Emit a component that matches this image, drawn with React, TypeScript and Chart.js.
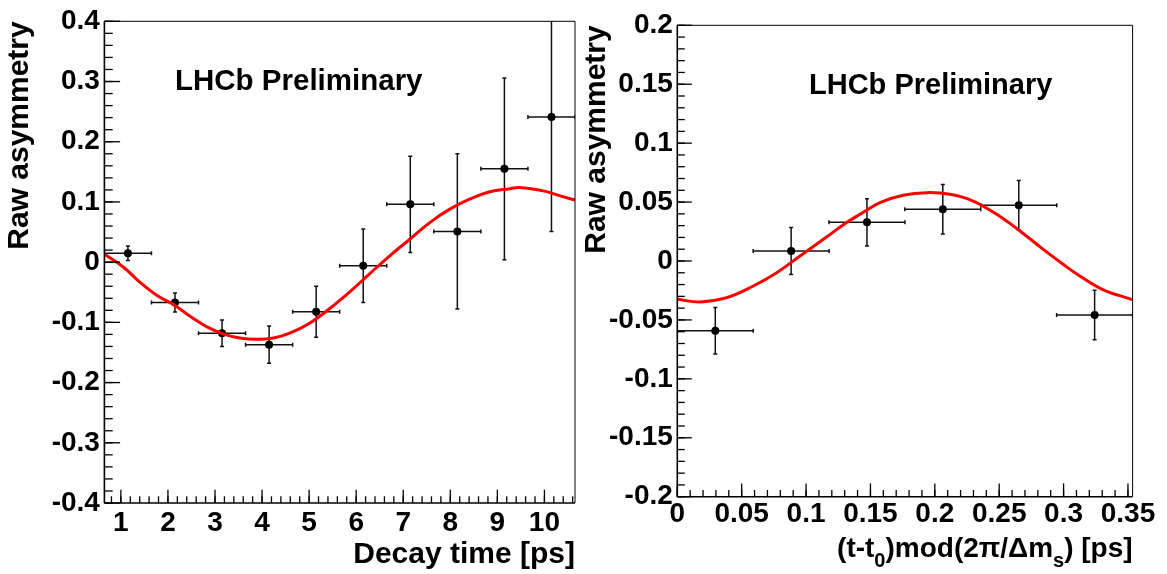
import React, { useEffect, useRef } from "react";
import { Chart, registerables } from "chart.js";

Chart.register(...registerables);

const FONT = "'Liberation Sans', Arial, Helvetica, sans-serif";

// ---------- Left panel: raw asymmetry vs decay time ----------
const leftTime = [1.15, 2.15, 3.15, 4.15, 5.15, 6.15, 7.15, 8.15, 9.15, 10.15];
const leftTimeErr = [0.5, 0.5, 0.5, 0.5, 0.5, 0.5, 0.5, 0.5, 0.5, 0.5];
const leftAsym = [0.0147, -0.067, -0.118, -0.137, -0.0824, -0.006, 0.096, 0.051, 0.155, 0.241];
const leftAsymErr = [0.012, 0.0157, 0.022, 0.031, 0.0425, 0.061, 0.08, 0.129, 0.151, 0.19];
const leftFitTime = [0.65, 1.05, 1.4, 1.76, 2.15, 2.47, 2.82, 3.17, 3.53, 3.88, 4.24, 4.59, 5.02, 5.44, 5.87, 6.29, 6.72, 7.14, 7.57, 7.99, 8.42, 8.84, 9.27, 9.47, 10.0, 10.3, 10.65];
const leftFitAsym = [0.013, -0.008, -0.033, -0.055, -0.072, -0.09, -0.107, -0.119, -0.126, -0.128, -0.126, -0.118, -0.101, -0.077, -0.049, -0.019, 0.011, 0.038, 0.066, 0.088, 0.105, 0.117, 0.122, 0.124, 0.118, 0.111, 0.103];
const leftXTicks = [1, 2, 3, 4, 5, 6, 7, 8, 9, 10];
const leftXTickLabels = ["1", "2", "3", "4", "5", "6", "7", "8", "9", "10"];
const leftYTicks = [-0.4, -0.3, -0.2, -0.1, 0, 0.1, 0.2, 0.3, 0.4];
const leftYTickLabels = ["-0.4", "-0.3", "-0.2", "-0.1", "0", "0.1", "0.2", "0.3", "0.4"];

// ---------- Right panel: raw asymmetry vs folded time ----------
const rightPhase = [0.0295, 0.0884, 0.1473, 0.2062, 0.2652, 0.3241];
const rightPhaseErr = [0.0295, 0.0295, 0.0295, 0.0295, 0.0295, 0.0295];
const rightAsym = [-0.0592, 0.0085, 0.0328, 0.0439, 0.0473, -0.0458];
const rightAsymErr = [0.0197, 0.02, 0.02, 0.021, 0.021, 0.021];
const rightFitPhase = [0, 0.0176, 0.0383, 0.059, 0.0772, 0.0953, 0.1134, 0.1315, 0.1419, 0.1574, 0.1755, 0.1936, 0.2117, 0.2298, 0.248, 0.2661, 0.2842, 0.2997, 0.3088, 0.33, 0.3536];
const rightFitAsym = [-0.0325, -0.0348, -0.0311, -0.0212, -0.0099, 0.0042, 0.0184, 0.0326, 0.0396, 0.0496, 0.0558, 0.058, 0.0566, 0.0509, 0.0396, 0.0255, 0.0099, -0.0028, -0.0099, -0.024, -0.0328];
const rightXTicks = [0, 0.05, 0.1, 0.15, 0.2, 0.25, 0.3, 0.35];
const rightXTickLabels = ["0", "0.05", "0.1", "0.15", "0.2", "0.25", "0.3", "0.35"];
const rightYTicks = [-0.2, -0.15, -0.1, -0.05, 0, 0.05, 0.1, 0.15, 0.2];
const rightYTickLabels = ["-0.2", "-0.15", "-0.1", "-0.05", "0", "0.05", "0.1", "0.15", "0.2"];

const yTitleText = "Raw asymmetry";
const stampText = "LHCb Preliminary";
const leftXTitle = [{ t: "Decay time [ps]" }];
const rightXTitle = [
  { t: "(t-t" },
  { t: "0", sub: true },
  { t: ")mod(2π/Δm" },
  { t: "s", sub: true },
  { t: ") [ps]" },
];

type Piece = { t: string; sub?: boolean };
type Panel = {
  xs: number[]; xerr: number[]; ys: number[]; yerr: number[];
  fitX: number[]; fitY: number[];
  xMin: number; xMax: number; yMin: number; yMax: number;
  xTicks: number[]; xTickLabels: string[]; yTicks: number[]; yTickLabels: string[];
  xMinorStep: number; yMinorStep: number;
  yAxisWidth: number; xAxisHeight: number; padTop: number; padRight: number;
  xTickPad: number; yTitlePad: number;
  xMajorLen: number; xMinorLen: number; yMajorLen: number; yMinorLen: number;
  stampX: number; stampY: number; stampSize: number;
  xTitle: Piece[]; xTitleSize: number; xTitleBaseline: number;
};

const leftPanel: Panel = {
  xs: leftTime, xerr: leftTimeErr, ys: leftAsym, yerr: leftAsymErr,
  fitX: leftFitTime, fitY: leftFitAsym,
  xMin: 0.65, xMax: 10.65, yMin: -0.4, yMax: 0.4,
  xTicks: leftXTicks, xTickLabels: leftXTickLabels, yTicks: leftYTicks, yTickLabels: leftYTickLabels,
  xMinorStep: 0.2, yMinorStep: 0.02,
  yAxisWidth: 104.4, xAxisHeight: 71, padTop: 15.3, padRight: 8,
  xTickPad: 3, yTitlePad: 2,
  xMajorLen: 13.3, xMinorLen: 6.7, yMajorLen: 15.7, yMinorLen: 8.3,
  stampX: 2.15, stampY: 0.299, stampSize: 29.5,
  xTitle: leftXTitle, xTitleSize: 30, xTitleBaseline: 563,
};

const rightPanel: Panel = {
  xs: rightPhase, xerr: rightPhaseErr, ys: rightAsym, yerr: rightAsymErr,
  fitX: rightFitPhase, fitY: rightFitAsym,
  xMin: 0, xMax: 0.3536, yMin: -0.2, yMax: 0.2,
  xTicks: rightXTicks, xTickLabels: rightXTickLabels, yTicks: rightYTicks, yTickLabels: rightYTickLabels,
  xMinorStep: 0.01, yMinorStep: 0.01,
  yAxisWidth: 94.3, xAxisHeight: 77.3, padTop: 25.3, padRight: 34.4,
  xTickPad: 1, yTitlePad: -4.3,
  xMajorLen: 13.3, xMinorLen: 6.7, yMajorLen: 14.5, yMinorLen: 7.5,
  stampX: 0.1023, stampY: 0.1486, stampSize: 29,
  xTitle: rightXTitle, xTitleSize: 28, xTitleBaseline: 557,
};

function makeRootPlugin(p: Panel) {
  const line = (ctx: CanvasRenderingContext2D, x0: number, y0: number, x1: number, y1: number) => {
    ctx.beginPath();
    ctx.moveTo(x0, y0);
    ctx.lineTo(x1, y1);
    ctx.stroke();
  };
  return {
    id: "rootStyle",
    beforeDatasetsDraw(chart: any) {
      const { ctx, chartArea: ca, scales } = chart;
      const xs = scales.x, ys = scales.y;
      ctx.save();
      ctx.beginPath();
      ctx.rect(ca.left, ca.top, ca.right - ca.left, ca.bottom - ca.top);
      ctx.clip();
      ctx.strokeStyle = "#111";
      ctx.lineWidth = 1.5;
      const cap = 2;
      p.xs.forEach((xv, i) => {
        const yv = p.ys[i];
        const xc = xs.getPixelForValue(xv);
        const yc = ys.getPixelForValue(yv);
        const x0 = xs.getPixelForValue(xv - p.xerr[i]);
        const x1 = xs.getPixelForValue(xv + p.xerr[i]);
        const y0 = ys.getPixelForValue(yv - p.yerr[i]);
        const y1 = ys.getPixelForValue(yv + p.yerr[i]);
        line(ctx, x0, yc, x1, yc);
        line(ctx, x0, yc - cap, x0, yc + cap);
        line(ctx, x1, yc - cap, x1, yc + cap);
        line(ctx, xc, y0, xc, y1);
        line(ctx, xc - cap, y0, xc + cap, y0);
        line(ctx, xc - cap, y1, xc + cap, y1);
      });
      ctx.restore();
    },
    afterDraw(chart: any) {
      const { ctx, chartArea: ca, scales } = chart;
      const xs = scales.x, ys = scales.y;
      ctx.save();
      // frame
      ctx.strokeStyle = "#000";
      ctx.lineWidth = 1;
      line(ctx, ca.left, ca.top, ca.right, ca.top);
      line(ctx, ca.right, ca.top, ca.right, ca.bottom);
      ctx.lineWidth = 1.6;
      line(ctx, ca.left, ca.top, ca.left, ca.bottom);
      line(ctx, ca.left, ca.bottom, ca.right, ca.bottom);
      // inward ticks
      ctx.lineWidth = 1.3;
      const kx0 = Math.ceil(p.xMin / p.xMinorStep - 1e-6);
      const kx1 = Math.floor(p.xMax / p.xMinorStep + 1e-6);
      for (let k = kx0; k <= kx1; k++) {
        const px = xs.getPixelForValue(k * p.xMinorStep);
        line(ctx, px, ca.bottom, px, ca.bottom - p.xMinorLen);
      }
      p.xTicks.forEach((v) => {
        const px = xs.getPixelForValue(v);
        line(ctx, px, ca.bottom, px, ca.bottom - p.xMajorLen);
      });
      const ky0 = Math.ceil(p.yMin / p.yMinorStep - 1e-6);
      const ky1 = Math.floor(p.yMax / p.yMinorStep + 1e-6);
      for (let k = ky0; k <= ky1; k++) {
        const py = ys.getPixelForValue(k * p.yMinorStep);
        line(ctx, ca.left, py, ca.left + p.yMinorLen, py);
      }
      p.yTicks.forEach((v) => {
        const py = ys.getPixelForValue(v);
        line(ctx, ca.left, py, ca.left + p.yMajorLen, py);
      });
      // stamp
      ctx.fillStyle = "#000";
      ctx.font = `bold ${p.stampSize}px ${FONT}`;
      ctx.textAlign = "left";
      ctx.textBaseline = "middle";
      ctx.fillText(stampText, xs.getPixelForValue(p.stampX), ys.getPixelForValue(p.stampY));
      // x-axis title (right aligned at axis end, with subscripts)
      const mainFont = `bold ${p.xTitleSize}px ${FONT}`;
      const subFont = `bold ${Math.round(p.xTitleSize * 0.7)}px ${FONT}`;
      ctx.textBaseline = "alphabetic";
      let total = 0;
      p.xTitle.forEach((pc) => {
        ctx.font = pc.sub ? subFont : mainFont;
        total += ctx.measureText(pc.t).width;
      });
      let cx = ca.right - total;
      p.xTitle.forEach((pc) => {
        ctx.font = pc.sub ? subFont : mainFont;
        ctx.fillText(pc.t, cx, p.xTitleBaseline + (pc.sub ? 10 : 0));
        cx += ctx.measureText(pc.t).width;
      });
      ctx.restore();
    },
  };
}

function buildConfig(p: Panel): any {
  const tickFont = { family: FONT, size: 28, weight: "bold" as const };
  return {
    type: "scatter",
    data: {
      datasets: [
        {
          label: "fit",
          data: p.fitX.map((x, i) => ({ x, y: p.fitY[i] })),
          showLine: true,
          borderColor: "#ff0000",
          borderWidth: 3,
          pointRadius: 0,
          tension: 0.4,
          fill: false,
          order: 0,
        },
        {
          label: "data",
          data: p.xs.map((x, i) => ({ x, y: p.ys[i] })),
          showLine: false,
          pointRadius: 4,
          pointBackgroundColor: "#000",
          pointBorderColor: "#000",
          pointBorderWidth: 0,
          order: 1,
        },
      ],
    },
    options: {
      responsive: false,
      animation: false,
      events: [],
      layout: { padding: { left: 0, top: p.padTop, right: p.padRight, bottom: 0 } },
      plugins: { legend: { display: false }, tooltip: { enabled: false }, title: { display: false } },
      scales: {
        x: {
          type: "linear",
          min: p.xMin,
          max: p.xMax,
          afterBuildTicks: (s: any) => {
            s.ticks = p.xTicks.map((v) => ({ value: v }));
          },
          afterFit: (s: any) => {
            s.height = p.xAxisHeight;
          },
          grid: { display: false, drawTicks: false },
          border: { display: false },
          ticks: {
            callback: (_v: any, i: number) => p.xTickLabels[i],
            font: tickFont,
            color: "#000",
            padding: p.xTickPad,
            autoSkip: false,
            maxRotation: 0,
            minRotation: 0,
          },
        },
        y: {
          type: "linear",
          min: p.yMin,
          max: p.yMax,
          afterBuildTicks: (s: any) => {
            s.ticks = p.yTicks.map((v) => ({ value: v }));
          },
          afterFit: (s: any) => {
            s.width = p.yAxisWidth;
          },
          grid: { display: false, drawTicks: false },
          border: { display: false },
          ticks: {
            callback: (_v: any, i: number) => p.yTickLabels[i],
            font: tickFont,
            color: "#000",
            padding: 4.5,
            autoSkip: false,
          },
          title: {
            display: true,
            text: yTitleText,
            align: "end",
            color: "#000",
            font: { family: FONT, size: 30, weight: "bold", lineHeight: 1.2 },
            padding: { top: p.yTitlePad, bottom: 0 },
          },
        },
      },
    },
    plugins: [makeRootPlugin(p)],
  };
}

export default function App() {
  const leftRef = useRef<HTMLCanvasElement>(null);
  const rightRef = useRef<HTMLCanvasElement>(null);
  useEffect(() => {
    document.body.style.margin = "0";
    const c1 = new Chart(leftRef.current as HTMLCanvasElement, buildConfig(leftPanel));
    const c2 = new Chart(rightRef.current as HTMLCanvasElement, buildConfig(rightPanel));
    return () => {
      c1.destroy();
      c2.destroy();
    };
  }, []);
  return (
    <div style={{ position: "relative", width: 1167, height: 574, background: "#fff" }}>
      <canvas ref={leftRef} width={583} height={574} style={{ position: "absolute", left: 0, top: 0 }} />
      <canvas ref={rightRef} width={584} height={574} style={{ position: "absolute", left: 583, top: 0 }} />
    </div>
  );
}
